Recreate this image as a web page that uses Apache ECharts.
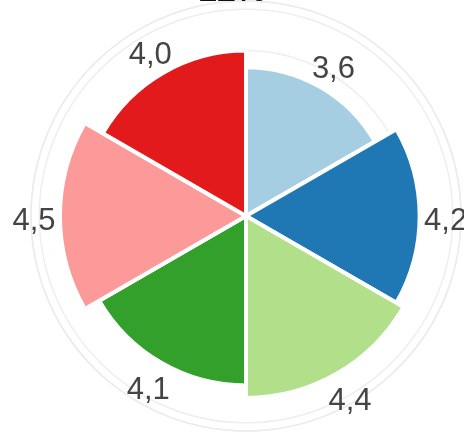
<!DOCTYPE html>
<html>
<head>
<meta charset="utf-8">
<style>
html,body{margin:0;padding:0;background:#fff;}
#chart{width:464px;height:433px;}
</style>
<script src="https://cdn.jsdelivr.net/npm/echarts@6/dist/echarts.min.js"></script>
</head>
<body>
<div id="chart"></div>
<script>
var titleText = '12%';
var categories = ['A', 'B', 'C', 'D', 'E', 'F'];
var values = [3.6, 4.2, 4.4, 4.1, 4.5, 4.0];
var colors = ['#a6cee3', '#1f78b4', '#b2df8a', '#33a02c', '#fb9a99', '#e31a1c'];

var chart = echarts.init(document.getElementById('chart'), null, {renderer: 'canvas'});
chart.setOption({
  animation: false,
  title: {
    text: titleText,
    left: 'center',
    top: -25,
    padding: 0,
    textStyle: {fontFamily: 'Liberation Sans, Arial, sans-serif', fontSize: 34, fontWeight: 'bold', color: '#111'}
  },
  polar: {center: [246, 216], radius: [0, 215]},
  angleAxis: {
    type: 'category',
    data: categories,
    startAngle: 90,
    clockwise: true,
    boundaryGap: true,
    axisLine: {show: true, lineStyle: {color: '#ececec', width: 1.5}},
    axisTick: {show: false},
    axisLabel: {show: false},
    splitLine: {show: false}
  },
  radiusAxis: {
    type: 'value',
    min: 0,
    max: 5.2,
    interval: 1,
    axisLine: {show: false},
    axisTick: {show: false},
    axisLabel: {show: false},
    splitLine: {show: true, lineStyle: {color: '#eeeeee', width: 1.5}}
  },
  series: [{
    type: 'bar',
    coordinateSystem: 'polar',
    barCategoryGap: '0%',
    data: values.map(function (v, i) {
      return {value: v, itemStyle: {color: colors[i]}};
    }),
    itemStyle: {borderColor: '#ffffff', borderWidth: 4},
    label: {
      show: true,
      position: 'end',
      distance: 26,
      rotate: 0.0001,
      align: 'center',
      verticalAlign: 'middle',
      offset: [0, 5],
      fontFamily: 'Liberation Sans, Arial, sans-serif',
      fontSize: 31,
      color: '#444',
      formatter: function (p) { return String(p.value.toFixed(1)).replace('.', ','); }
    }
  }]
});
</script>
</body>
</html>
